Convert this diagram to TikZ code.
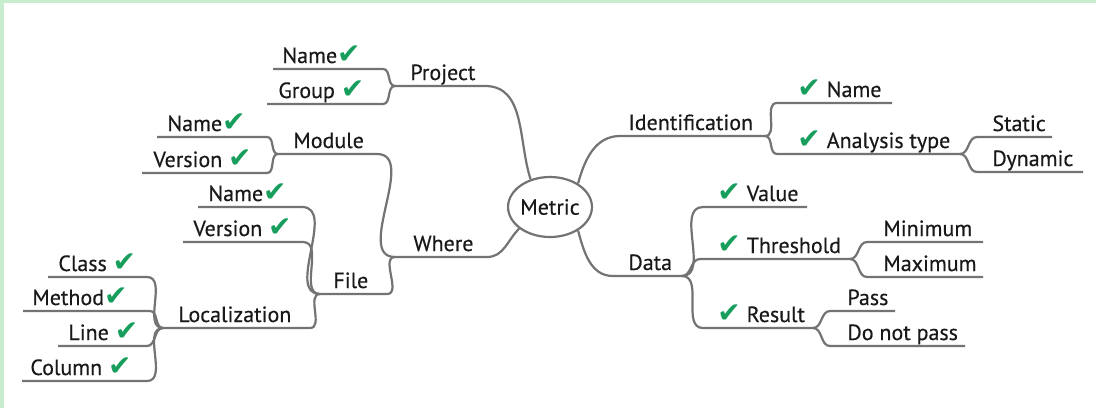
\documentclass[tikz,border=0pt]{standalone}
\usepackage{fontspec}
\setmainfont{PT Sans}[FakeBold=0.4]
\newfontfamily\symfont{DejaVu Sans}
\usetikzlibrary{shapes.geometric}

\definecolor{framegreen}{RGB}{200,237,206}
\definecolor{tickgreen}{RGB}{24,158,92}
\definecolor{linegray}{RGB}{115,115,115}
\definecolor{txt}{RGB}{25,25,25}
\newcommand{\okmark}{{\color{tickgreen}\symfont\fontsize{14}{14}\selectfont ✔}}

\begin{document}
\begin{tikzpicture}[x=0.5pt, y=0.5pt,
  branch/.style={draw=linegray, line width=1.1pt},
  lbl/.style={anchor=base west, inner sep=0pt, text=txt, font=\fontsize{11}{13}\selectfont}]
\useasboundingbox (0,0) rectangle (1096,-408);
\fill[white] (0,0) rectangle (1096,-408);
\fill[framegreen] (0,0) rectangle (1096,-3);
\fill[framegreen] (0,0) rectangle (4,-408);

\node[draw=linegray, line width=1.1pt, ellipse, minimum width=41pt, minimum height=30pt,
  inner sep=0pt, text=txt, font=\fontsize{11}{13}\selectfont] (metric) at (550,-207) {Metric};

\foreach \n/\xl/\xr/\y in {
  p/395/485/86, pn/273/383/69, pg/267/383/104,
  m/278/377/154, mn/157/267/137, mv/142/267/173,
  w/395/487/257,
  f/320/387/294, fn/198/302/207, fv/183/303/242,
  lz/163/310/328, lc/48/147/277, lm/23/150/311, ll/58/147/346, lo/22/147/381,
  id/620/765/136, idn/777/892/103, at/777/960/154, as/977/1052/137, ad/977/1083/172,
  d/613/682/276, dv/703/807/207, dt/700/850/259, tn/867/983/242, tx/867/983/277,
  dr/703/813/328, rp/830/895/311, rn/830/965/346} {
  \coordinate (\n-l) at (\xl,-\y);
  \coordinate (\n-r) at (\xr,-\y);
}

\draw[branch] (metric.125) to[out=108,in=0] (p-r) -- (p-l);
\draw[branch] (metric.215) to[out=225,in=0] (w-r) -- (w-l);
\foreach \c in {pn,pg} \draw[branch] (p-l) to[out=180,in=0] (\c-r) -- (\c-l);
\foreach \c in {m,f} \draw[branch] (w-l) to[out=180,in=0] (\c-r) -- (\c-l);
\foreach \c in {mn,mv} \draw[branch] (m-l) to[out=180,in=0] (\c-r) -- (\c-l);
\foreach \c in {fn,fv,lz} \draw[branch] (f-l) to[out=180,in=0] (\c-r) -- (\c-l);
\foreach \c in {lc,lm,ll,lo} \draw[branch] (lz-l) to[out=180,in=0] (\c-r) -- (\c-l);

\draw[branch] (metric.40) to[out=75,in=180] (id-l) -- (id-r);
\draw[branch] (metric.-40) to[out=-75,in=180] (d-l) -- (d-r);
\foreach \c in {idn,at} \draw[branch] (id-r) to[out=0,in=180] (\c-l) -- (\c-r);
\foreach \c in {as,ad} \draw[branch] (at-r) to[out=0,in=180] (\c-l) -- (\c-r);
\foreach \c in {dv,dt,dr} \draw[branch] (d-r) to[out=0,in=180] (\c-l) -- (\c-r);
\foreach \c in {tn,tx} \draw[branch] (dt-r) to[out=0,in=180] (\c-l) -- (\c-r);
\foreach \c in {rp,rn} \draw[branch] (dr-r) to[out=0,in=180] (\c-l) -- (\c-r);

\node[lbl] (project) at (410,-80) {Project};
\node[lbl] (prjname) at (282,-63) {Name\okmark};
\node[lbl] (prjgroup) at (278,-98) {Group \okmark};
\node[lbl] (module) at (293,-148) {Module};
\node[lbl] (modname) at (167,-131) {Name\okmark};
\node[lbl] (modversion) at (153,-167) {Version \okmark};
\node[lbl] (where) at (413,-251) {Where};
\node[lbl] (file) at (333,-288) {File};
\node[lbl] (filename) at (208,-201) {Name\okmark};
\node[lbl] (fileversion) at (193,-236) {Version \okmark};
\node[lbl] (localization) at (178,-322) {Localization};
\node[lbl] (class) at (58,-271) {Class \okmark};
\node[lbl] (method) at (32,-305) {Method\okmark};
\node[lbl] (line) at (68,-340) {Line \okmark};
\node[lbl] (column) at (30,-375) {Column \okmark};

\node[lbl] (ident) at (628,-130) {Identification};
\node[lbl] (idname) at (797,-97) {\okmark\ Name};
\node[lbl] (analysis) at (797,-148) {\okmark\ Analysis type};
\node[lbl] (static) at (992,-131) {Static};
\node[lbl] (dynamic) at (992,-166) {Dynamic};
\node[lbl] (data) at (628,-270) {Data};
\node[lbl] (value) at (717,-201) {\okmark\ Value};
\node[lbl] (threshold) at (717,-253) {\okmark\ Threshold};
\node[lbl] (minimum) at (883,-236) {Minimum};
\node[lbl] (maximum) at (883,-271) {Maximum};
\node[lbl] (result) at (717,-322) {\okmark\ Result};
\node[lbl] (pass) at (847,-305) {Pass};
\node[lbl] (donotpass) at (847,-340) {Do not pass};
\end{tikzpicture}
\end{document}
